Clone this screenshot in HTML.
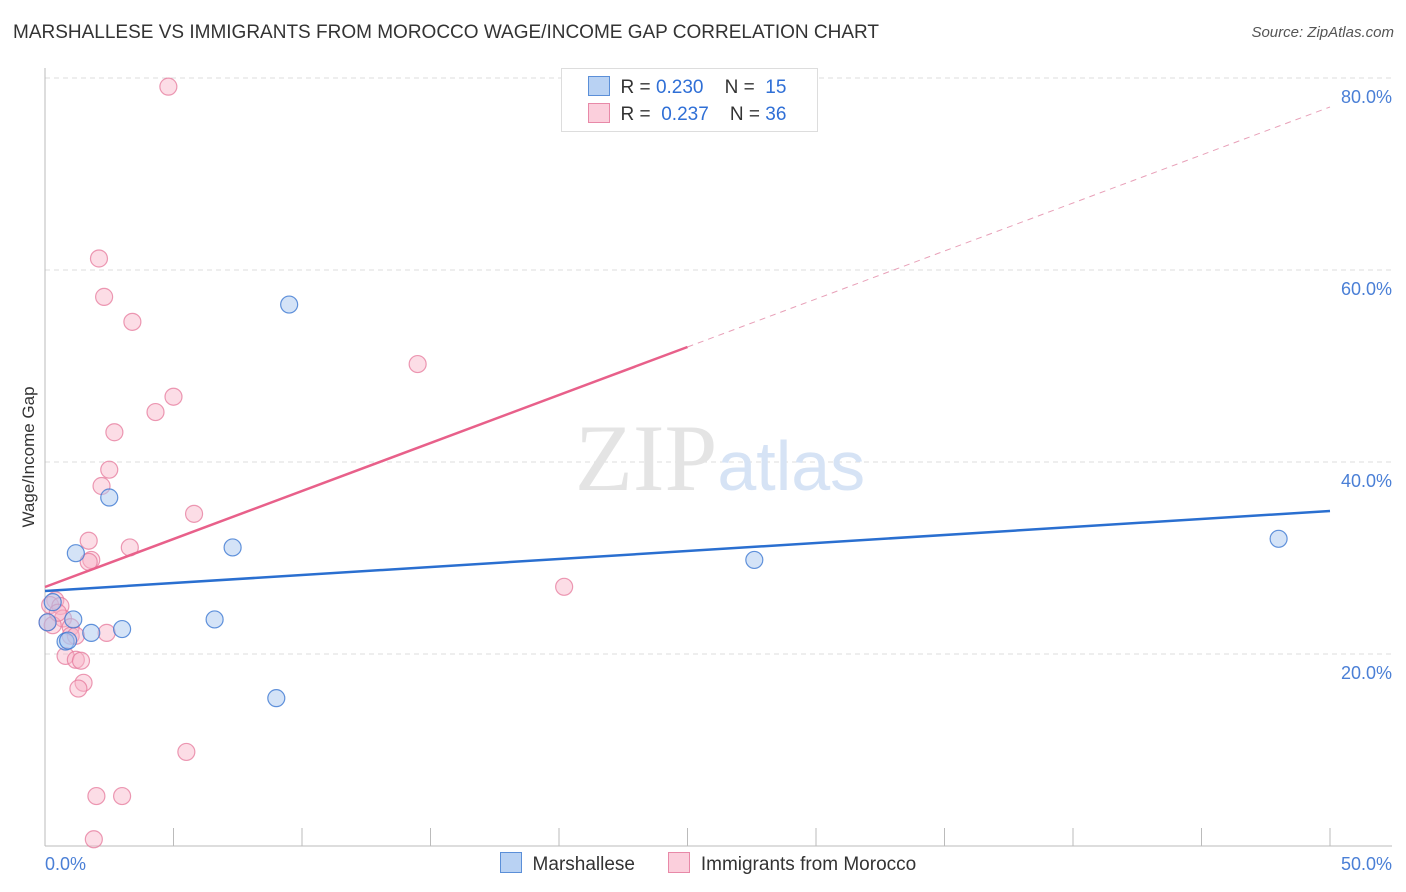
<!DOCTYPE html>
<html><head><meta charset="utf-8">
<style>
body{margin:0;background:#fff;font-family:"Liberation Sans",sans-serif;}
#wrap{position:relative;width:1406px;height:892px;overflow:hidden;}
.t{position:absolute;white-space:nowrap;}
</style></head><body>
<div id="wrap">
<div class="t" style="left:13px;top:22px;font-size:19px;color:#333;">MARSHALLESE VS IMMIGRANTS FROM MOROCCO WAGE/INCOME GAP CORRELATION CHART</div>
<div class="t" style="right:12px;top:24px;font-size:15px;color:#555;font-style:italic;">Source: ZipAtlas.com</div>
<svg id="svg" width="1406" height="892" style="position:absolute;left:0;top:0"></svg>
</div>
<script>
const blueX=[9.5,2.5,1.2,7.3,27.6,48.0,6.6,3.0,1.8,1.1,0.8,0.3,0.1,9.0,0.9];
const blueY=[56.4,36.3,30.5,31.1,29.8,32.0,23.6,22.6,22.2,23.6,21.3,25.4,23.3,15.4,21.4];
const pinkX=[4.8,2.1,2.3,3.4,14.5,5.0,4.3,2.7,2.5,2.2,5.8,1.7,3.3,1.8,1.7,20.2,0.4,0.2,0.6,0.1,0.7,1.0,1.0,2.4,1.2,0.8,1.2,1.4,1.5,1.3,5.5,2.0,3.0,1.9,0.3,0.5];
const pinkY=[79.1,61.2,57.2,54.6,50.2,46.8,45.2,43.1,39.2,37.5,34.6,31.8,31.1,29.8,29.6,27.0,25.6,25.1,25.0,23.3,23.7,22.8,21.9,22.2,21.9,19.8,19.4,19.3,17.0,16.4,9.8,5.2,5.2,0.7,23.0,24.3];
const blueTrend=[26.56,34.9];
const pinkTrend=[26.98,76.98];
const yTicks=[20,40,60,80];
const xTickLabels=["0.0%","50.0%"];
const X=v=>45+v*25.7, Y=v=>846-v*9.6;
const ns="http://www.w3.org/2000/svg", svg=document.getElementById('svg');
function mk(tag,attrs,parent){const e=document.createElementNS(ns,tag);for(const k in attrs)e.setAttribute(k,attrs[k]);(parent||svg).appendChild(e);return e;}
// grid
mk('line',{x1:45,y1:78,x2:1392,y2:78,stroke:'#ddd','stroke-dasharray':'5,4'});
yTicks.forEach(t=>{
 const g=mk('line',{x1:45,y1:Y(t),x2:1392,y2:Y(t),stroke:'#ddd','stroke-dasharray':'5,4'});
 
 
 const tx=mk('text',{x:1392,y:Y(t)+25,'text-anchor':'end','font-size':18,fill:'#4a7fd6','font-family':'Liberation Sans'});
 tx.textContent=t.toFixed(1)+'%';
 
 
});
// axes
const ax=mk('line',{x1:45,y1:68,x2:45,y2:846,stroke:'#bbb'});


const axx=mk('line',{x1:45,y1:846,x2:1392,y2:846,stroke:'#bbb'});


for(let i=1;i<=10;i++){const tk=mk('line',{x1:X(i*5),y1:828,x2:X(i*5),y2:846,stroke:'#bbb'});

}
[[0,'start',45],[1,'end',1392]].forEach(([i,a,x])=>{const tx=mk('text',{x:x,y:870,'text-anchor':a,'font-size':18,fill:'#4a7fd6','font-family':'Liberation Sans'});tx.textContent=xTickLabels[i];

});
// watermark
const wm=mk('text',{x:720,y:490,'text-anchor':'middle','font-size':95,'font-family':'Liberation Serif',fill:'#e4e4e4'});
wm.innerHTML='ZIP<tspan fill="#d6e3f5" font-family="Liberation Sans" font-size="70">atlas</tspan>';


// y title
const yt=mk('text',{x:34,y:457,'text-anchor':'middle','font-size':17,fill:'#333',transform:'rotate(-90 34 457)','font-family':'Liberation Sans'});
yt.textContent='Wage/Income Gap';


// points
function pts(xs,ys,fill,stroke,name){xs.forEach((x,i)=>{const c=mk('circle',{cx:X(x),cy:Y(ys[i]),r:8.5,fill:fill,stroke:stroke,'stroke-width':1.2});

});}
pts(pinkX,pinkY,'rgba(248,180,200,0.45)','rgba(230,120,155,0.75)','morocco-point');
pts(blueX,blueY,'rgba(170,200,240,0.5)','rgba(60,120,210,0.8)','marshallese-point');
// trends
const bl=mk('line',{x1:X(0),y1:Y(blueTrend[0]),x2:X(50),y2:Y(blueTrend[1]),stroke:'#2a6fd0','stroke-width':2.5});


const pm=pinkTrend[0]+(pinkTrend[1]-pinkTrend[0])*0.5;
const pl=mk('line',{x1:X(0),y1:Y(pinkTrend[0]),x2:X(25),y2:Y(pm),stroke:'#e8608a','stroke-width':2.5});


const pd=mk('line',{x1:X(25),y1:Y(pm),x2:X(50),y2:Y(pinkTrend[1]),stroke:'#e8a0b8','stroke-width':1,'stroke-dasharray':'6,5'});


</script>
<div style="position:absolute;left:561px;top:68px;width:255px;height:62px;border:1px solid #ddd;background:#fff;font-size:19px;color:#333;">
 <div style="position:absolute;left:26px;top:7px;white-space:nowrap;"><span style="display:inline-block;width:20px;height:18px;background:#b9d2f3;border:1px solid #5b8fd8;vertical-align:-3px;"></span>&nbsp; R = <span style="color:#2f6fd6">0.230</span>&nbsp;&nbsp;&nbsp; N = &nbsp;<span style="color:#2f6fd6">15</span></div>
 <div style="position:absolute;left:26px;top:34px;white-space:nowrap;"><span style="display:inline-block;width:20px;height:18px;background:#fbcfdc;border:1px solid #e889a8;vertical-align:-3px;"></span>&nbsp; R = &nbsp;<span style="color:#2f6fd6">0.237</span>&nbsp;&nbsp;&nbsp; N = <span style="color:#2f6fd6">36</span></div>
</div>
<div style="position:absolute;left:500px;top:852px;font-size:19px;color:#333;white-space:nowrap;">
 <span><span style="display:inline-block;width:20px;height:19px;background:#b9d2f3;border:1px solid #5b8fd8;vertical-align:-3px;"></span>&nbsp; Marshallese</span>
 <span style="margin-left:28px;"><span style="display:inline-block;width:20px;height:19px;background:#fbcfdc;border:1px solid #e889a8;vertical-align:-3px;"></span>&nbsp; Immigrants from Morocco</span>
</div>
</body></html>
